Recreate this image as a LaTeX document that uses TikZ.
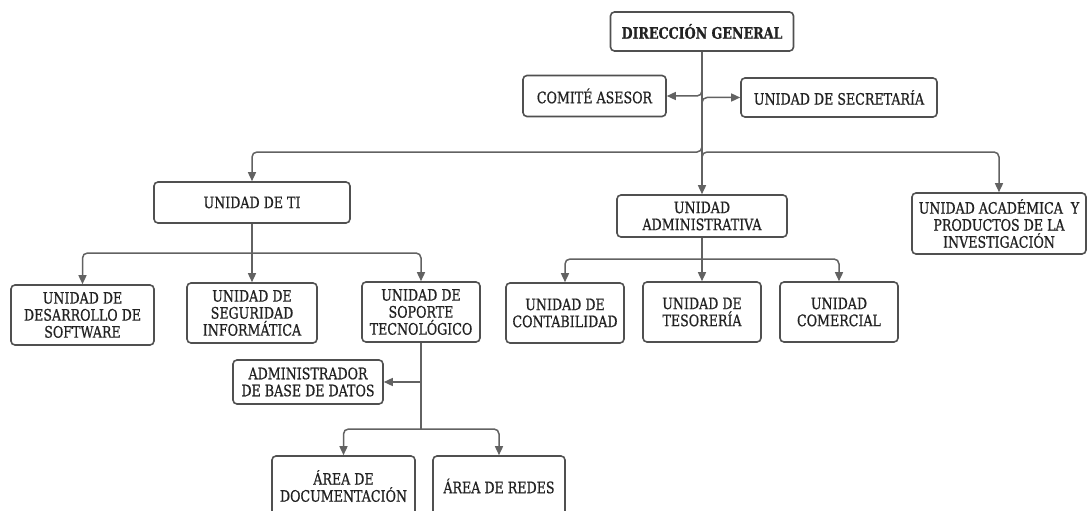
\documentclass[tikz,border=0pt]{standalone}
\usepackage{fontspec}
\setmainfont{DejaVu Serif}[FakeStretch=0.8, FakeBold=0.7]
\usetikzlibrary{arrows.meta}
\definecolor{boxline}{HTML}{505050}
\definecolor{conn}{HTML}{626262}
\definecolor{ink}{HTML}{222222}
\tikzset{
  unit/.style={draw=boxline, line width=1.6pt, rounded corners=4pt, fill=white,
    align=center, inner sep=0pt, text=ink,
    font=\fontsize{15.8}{17}\selectfont},
  link/.style={draw=conn, line width=1.5pt, rounded corners=5pt},
  arrowlink/.style={link, -{Triangle[length=9pt,width=8pt]}}
}
\begin{document}
\begin{tikzpicture}[x=1pt,y=-1pt]
\useasboundingbox (0,0) rectangle (1088,511);
\fill[white] (0,0) rectangle (1088,511);

% top level
\node[unit, minimum width=183pt, minimum height=39pt, font=\fontsize{15.8}{17}\selectfont\bfseries] (dg) at (702,31.5) {DIRECCIÓN GENERAL};
\node[unit, minimum width=143pt, minimum height=41pt] (ca) at (594.5,96) {COMITÉ ASESOR};
\node[unit, minimum width=196pt, minimum height=39pt] (us) at (839,97.5) {UNIDAD DE SECRETARÍA};

% second level
\node[unit, minimum width=196pt, minimum height=41pt] (ti) at (252,202.5) {UNIDAD DE TI};
\node[unit, minimum width=170pt, minimum height=42pt] (ua) at (702,216) {UNIDAD\\ADMINISTRATIVA};
\node[unit, minimum width=174pt, minimum height=61pt] (ac) at (999,223.5) {UNIDAD ACADÉMICA\ \ Y\\PRODUCTOS DE LA\\INVESTIGACIÓN};

% IT units
\node[unit, minimum width=143pt, minimum height=60pt] (ds) at (82.5,315) {UNIDAD DE\\DESARROLLO DE\\SOFTWARE};
\node[unit, minimum width=130pt, minimum height=60pt] (si) at (252,313) {UNIDAD DE\\SEGURIDAD\\INFORMÁTICA};
\node[unit, minimum width=118pt, minimum height=60pt] (st) at (421,312) {UNIDAD DE\\SOPORTE\\TECNOLÓGICO};

% administrative units
\node[unit, minimum width=118pt, minimum height=60pt] (ct) at (565,313) {UNIDAD DE\\CONTABILIDAD};
\node[unit, minimum width=118pt, minimum height=60pt] (te) at (702,312) {UNIDAD DE\\TESORERÍA};
\node[unit, minimum width=118pt, minimum height=60pt] (cm) at (839,312) {UNIDAD\\COMERCIAL};

% technical support areas
\node[unit, minimum width=150pt, minimum height=44pt] (ad) at (308,382) {ADMINISTRADOR\\DE BASE DE DATOS};
\node[unit, minimum width=143pt, minimum height=60pt] (doc) at (343.5,486) {ÁREA DE\\DOCUMENTACIÓN};
\node[unit, minimum width=132pt, minimum height=60pt] (rd) at (499,486) {ÁREA DE REDES};

% junction points
\coordinate (bus) at (702,152);
\coordinate (tij) at (252,253);
\coordinate (uaj) at (702,259);
\coordinate (stj) at (421,429);

% direction trunk; side branches leave it with a short bend
\draw[arrowlink] (dg.south) -- (ua.north);
\draw[arrowlink] (dg.south |- 0,91) |- (ca.east);
\draw[arrowlink] (dg.south |- 0,103) |- (us.west);
\draw[arrowlink] (dg.south |- 0,146) |- (ti.north |- bus) -- (ti.north);
\draw[arrowlink] (dg.south |- 0,158) |- (ac.north |- bus) -- (ac.north);

% IT branch
\draw[arrowlink] (ti.south) -- (si.north);
\draw[arrowlink] (tij) -| (ds.north);
\draw[arrowlink] (tij) -| (st.north);

% administrative branch
\draw[arrowlink] (ua.south) -- (te.north);
\draw[arrowlink] (uaj) -| (ct.north);
\draw[arrowlink] (uaj) -| (cm.north);

% technical support branch
\draw[link] (st.south) -- (stj);
\draw[arrowlink] (st.south |- ad.east) -- (ad.east);
\draw[arrowlink] (stj) -| (doc.north);
\draw[arrowlink] (stj) -| (rd.north);
\end{tikzpicture}
\end{document}
